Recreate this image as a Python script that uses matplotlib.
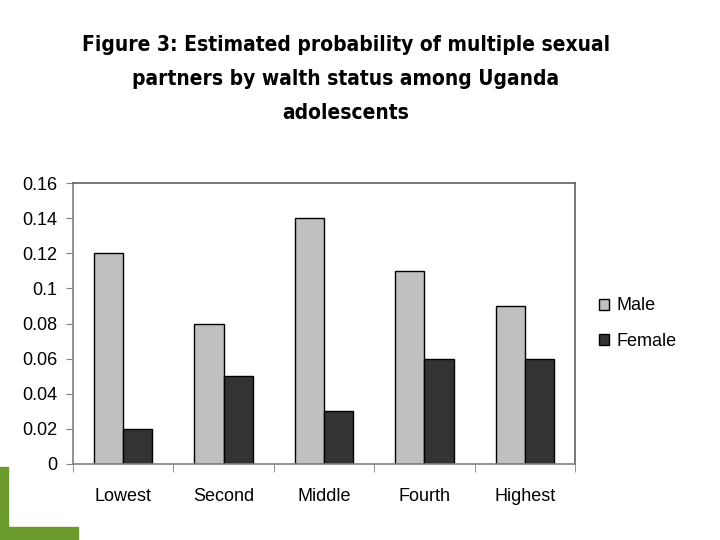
import matplotlib
matplotlib.use("Agg")
import matplotlib.pyplot as plt
import numpy as np
from matplotlib.patches import Rectangle

categories = ["Lowest", "Second", "Middle", "Fourth", "Highest"]
male = [0.12, 0.08, 0.14, 0.11, 0.09]
female = [0.02, 0.05, 0.03, 0.06, 0.06]
yticks = [0, 0.02, 0.04, 0.06, 0.08, 0.1, 0.12, 0.14, 0.16]
ytick_labels = ["0", "0.02", "0.04", "0.06", "0.08", "0.1", "0.12", "0.14", "0.16"]

plt.rcParams['font.family'] = ['Liberation Sans', 'DejaVu Sans']

fig = plt.figure(figsize=(7.2, 5.4), dpi=100)
ax = fig.add_axes([73/720, 76/540, 502/720, 281/540])

x = np.arange(len(categories))
w = 0.29
ax.bar(x - w/2, male, width=w, color="#c0c0c0", edgecolor="black", linewidth=1.0, label="Male")
ax.bar(x + w/2, female, width=w, color="#333333", edgecolor="black", linewidth=1.0, label="Female")

ax.set_xlim(-0.5, len(categories) - 0.5)
ax.set_ylim(0, 0.16)
ax.set_yticks(yticks)
ax.set_yticklabels(ytick_labels, fontsize=13)
ax.set_xticks(x)
ax.set_xticklabels(categories, fontsize=13)
ax.set_xticks(np.arange(-0.5, len(categories)), minor=True)
ax.tick_params(axis='x', which='major', length=0, pad=17)
ax.tick_params(axis='x', which='minor', length=6, color="#808080", direction='out')
ax.tick_params(axis='y', length=5, color="#808080", direction='out', pad=6)
for side in ['left', 'bottom']:
    ax.spines[side].set_color("#808080")
for side in ['top', 'right']:
    ax.spines[side].set_color("#606060")
for s in ax.spines.values():
    s.set_linewidth(1.2)

leg = ax.legend(loc='center left', bbox_to_anchor=(1.015, 0.5), frameon=False,
                fontsize=13, handlelength=0.55, handleheight=0.55, handletextpad=0.45,
                labelspacing=1.0)

title_font = ['DejaVu Sans']
fig.text(346/720, 1 - 79/540,
         "Figure 3: Estimated probability of multiple sexual\npartners by walth status among Uganda\nadolescents",
         ha='center', va='center', fontsize=15, fontweight='bold', family=title_font,
         linespacing=1.85, fontstretch='condensed')

# decorative corner
fig.patches.append(Rectangle((0, 0), 8/720, 73/540, transform=fig.transFigure, color="#6a9a2c"))
fig.patches.append(Rectangle((0, 0), 78/720, 13/540, transform=fig.transFigure, color="#6a9a2c"))

fig.savefig("out.png", dpi=100)
